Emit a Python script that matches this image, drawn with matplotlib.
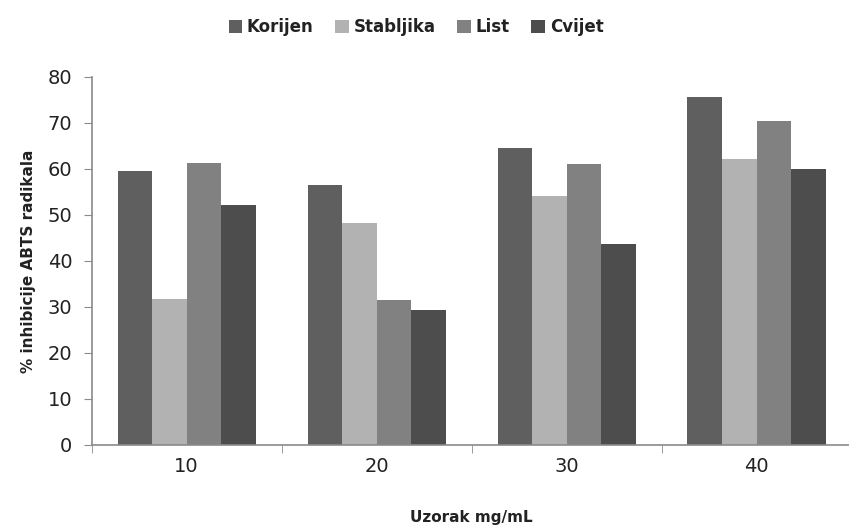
import matplotlib.pyplot as plt
import numpy as np

# Data
categories = ["10", "20", "30", "40"]
series_names = ["Korijen", "Stabljika", "List", "Cvijet"]
korijen = [59.6, 56.5, 64.6, 75.6]
stabljika = [31.7, 48.3, 54.0, 62.2]
list_ = [61.3, 31.5, 61.1, 70.4]
cvijet = [52.2, 29.3, 43.7, 59.9]
y_ticks = [0, 10, 20, 30, 40, 50, 60, 70, 80]

colors = ["#5f5f5f", "#b2b2b2", "#818181", "#4d4d4d"]
axis_color = "#8a8a8a"

fig = plt.figure(figsize=(8.49, 5.27), dpi=100)
ax = fig.add_axes([0.108, 0.156, 0.895, 0.698])

x = np.arange(len(categories))
bar_w = 1 / 5.5
values = [korijen, stabljika, list_, cvijet]
for i, (name, vals) in enumerate(zip(series_names, values)):
    offset = (i - 1.5) * bar_w
    ax.bar(x + offset, vals, width=bar_w, color=colors[i], label=name)

ax.set_xlim(-0.5, 3.5)
ax.set_ylim(0, 80)
ax.set_yticks(y_ticks)
ax.set_xticks(x)
ax.set_xticklabels(categories)
ax.set_xticks(np.arange(-0.5, 3.6, 1), minor=True)

for side in ["top", "right"]:
    ax.spines[side].set_visible(False)
for side in ["left", "bottom"]:
    ax.spines[side].set_color(axis_color)
    ax.spines[side].set_linewidth(1.2)

ax.tick_params(axis="y", direction="out", length=6, color=axis_color,
               labelsize=14, labelcolor="#222222", pad=8)
ax.tick_params(axis="x", which="major", length=0, labelsize=14,
               labelcolor="#222222", pad=9)
ax.tick_params(axis="x", which="minor", direction="out", length=6, color=axis_color)

ax.set_ylabel("% inhibicije ABTS radikala", fontsize=11, fontweight="bold",
              color="#222222", labelpad=8)
ax.set_xlabel("Uzorak mg/mL", fontsize=11, fontweight="bold",
              color="#222222", labelpad=24)

leg = fig.legend(loc="center", bbox_to_anchor=(0.49, 0.948), ncol=4,
                 frameon=False, handlelength=0.8, handleheight=0.8,
                 handletextpad=0.3, columnspacing=1.3,
                 prop={"size": 12, "weight": "bold"})
for t in leg.get_texts():
    t.set_color("#222222")

fig.savefig("out.png", dpi=100)
